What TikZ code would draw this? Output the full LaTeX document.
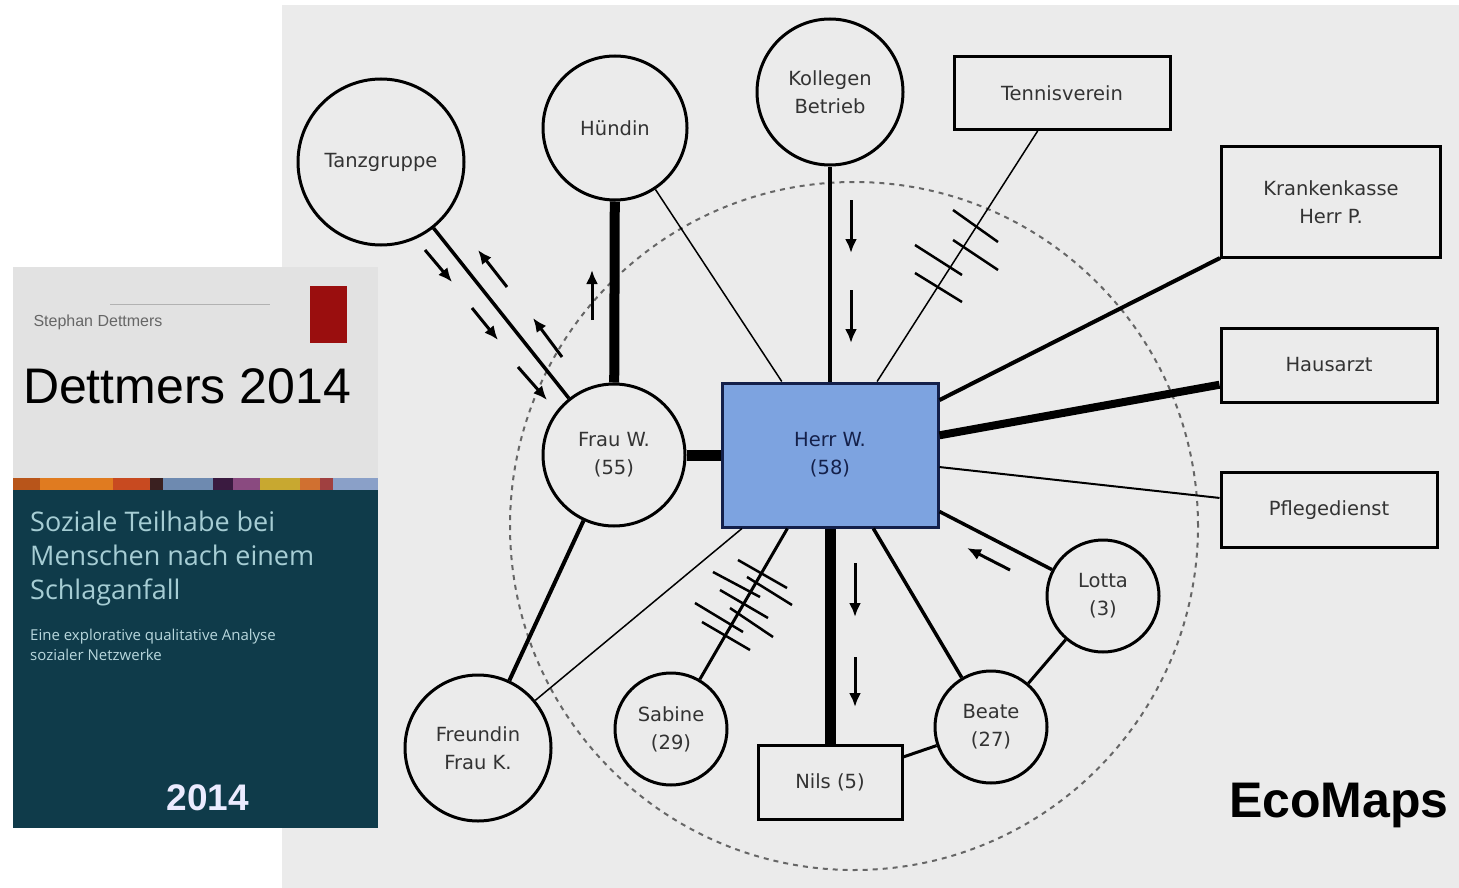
\documentclass[tikz,border=0pt]{standalone}
\usepackage{fontspec}
\setmainfont{DejaVu Sans}
\newfontfamily\coverfont{Liberation Sans}
\newfontfamily\subfont{Open Sans}
\usetikzlibrary{arrows.meta}

\definecolor{bg}{HTML}{EBEBEB}
\definecolor{herrblue}{RGB}{125,163,224}
\definecolor{navy}{HTML}{14204A}
\definecolor{coverlight}{HTML}{E2E2E2}
\definecolor{coverdark}{HTML}{0F3B4A}
\definecolor{covertext}{HTML}{A6CDD4}
\definecolor{coverred}{HTML}{9A0E0E}

\begin{document}
\begin{tikzpicture}[x=1pt,y=-1pt,
  txt/.style={font=\fontsize{19.5}{28}\selectfont, text=black!80, align=center},
  person/.style={txt, circle, draw, line width=3pt, fill=bg, inner sep=0pt},
  org/.style={txt, rectangle, draw, line width=3pt, fill=bg, inner sep=0pt},
  arr/.style={line width=3pt, -{Latex[length=14pt,width=12pt]}},
  hatch/.style={line width=2.5pt}]
  \useasboundingbox (0,0) rectangle (1459,888);
  \fill[white] (0,0) rectangle (1459,888);
  \fill[bg] (282,5) rectangle (1459,888);
  %% Book cover
  \fill[coverlight] (13,267) rectangle (378,478);
  \foreach \a/\b/\c in {13/40/B8551A,40/113/E07B20,113/150/C84A20,150/163/3A2020,163/213/6E8AB0,
    213/233/3A1A40,233/260/8A4A80,260/300/C8A830,300/320/D07030,320/333/A04040,333/378/8AA0C8}{%
    \definecolor{stripe}{HTML}{\c}
    \fill[stripe] (\a,478) rectangle (\b,490);
  }
  \fill[coverdark] (13,490) rectangle (378,828);
  \fill[coverred] (310,286) rectangle (347,343);
  \draw[gray!60, line width=1pt] (110,304) -- (270,304);
  \node[anchor=west, font=\coverfont\fontsize{16}{18}\selectfont, text=black!60] (autor) at (30,322) {Stephan Dettmers};
  \node[font=\coverfont\fontsize{50}{60}\selectfont] (titel) at (187,386) {Dettmers 2014};
  \node[anchor=north west, align=left, inner sep=0pt, font=\subfont\fontsize{27}{34}\selectfont, text=covertext] (thema) at (30,511) {Soziale Teilhabe bei\\Menschen nach einem\\Schlaganfall};
  \node[anchor=north west, align=left, inner sep=0pt, font=\subfont\fontsize{15}{20}\selectfont, text=covertext!80] (untertitel) at (30,629) {Eine explorative qualitative Analyse\\sozialer Netzwerke};
  \node[font=\coverfont\bfseries\fontsize{37}{40}\selectfont, text=blue!8] (jahr) at (208,798) {2014};
  %% Zone circle
  \draw[black!60, line width=2pt, dash pattern=on 5pt off 5pt] (854,526) circle[radius=344pt];
  %% Nodes
  \node[person, minimum size=166pt] (tanz) at (381,162) {Tanzgruppe};
  \node[person, minimum size=144pt] (huendin) at (615,128) {Hündin};
  \node[person, minimum size=146pt] (kollegen) at (830,92) {Kollegen\\Betrieb};
  \node[org, minimum width=216pt, minimum height=73pt] (tennis) at (1062,93) {Tennisverein};
  \node[org, minimum width=219pt, minimum height=110pt] (kasse) at (1331,202) {Krankenkasse\\Herr P.};
  \node[org, minimum width=216pt, minimum height=74pt] (arzt) at (1329,365) {Hausarzt};
  \node[org, minimum width=216pt, minimum height=75pt] (pflege) at (1329,510) {Pflegedienst};
  \node[org, minimum width=216pt, minimum height=144pt, fill=herrblue, draw=navy, text=navy] (herr) at (830,455) {Herr W.\\(58)};
  \node[person, minimum size=142pt] (frau) at (614,455) {Frau W.\\(55)};
  \node[person, minimum size=112pt] (lotta) at (1103,596) {Lotta\\(3)};
  \node[person, minimum size=112pt] (beate) at (991,727) {Beate\\(27)};
  \node[org, minimum width=144pt, minimum height=74pt] (nils) at (830,782) {Nils (5)};
  \node[person, minimum size=112pt] (sabine) at (671,729) {Sabine\\(29)};
  \node[person, minimum size=146pt] (freundin) at (478,748) {Freundin\\Frau K.};
  %% Connections
  \draw[line width=3.5pt] (tanz) -- (frau);
  \draw[line width=10pt] (huendin) -- (frau);
  \draw[line width=1.5pt] (huendin) -- (herr);
  \draw[line width=4pt] (kollegen) -- (herr);
  \draw[line width=1.5pt] (tennis) -- (herr);
  \draw[line width=4pt] (kasse) -- (herr);
  \draw[line width=8pt] (arzt) -- (herr);
  \draw[line width=2pt] (pflege) -- (herr);
  \draw[line width=3.5pt] (lotta) -- (herr);
  \draw[line width=3.5pt] (beate) -- (herr);
  \draw[line width=11pt] (nils) -- (herr);
  \draw[line width=3pt] (sabine) -- (herr);
  \draw[line width=1.5pt] (freundin) -- (herr);
  \draw[line width=4pt] (frau) -- (freundin);
  \draw[line width=11pt] (frau) -- (herr);
  \draw[line width=3pt] (beate) -- (nils);
  \draw[line width=3pt] (beate) -- (lotta);
  %% Stress marks
  \foreach \xa/\ya/\xb/\yb in {953/210/998/242,953/240/998/270,915/245/962/275,915/273/962/302,
    738/560/787/588,713/572/760/597,747/577/792/605,720/590/768/618,695/603/743/632,730/608/773/637,702/622/750/650}{
    \draw[hatch] (\xa,\ya) -- (\xb,\yb);
  }
  %% Flow arrows
  \foreach \xa/\ya/\xb/\yb in {425/250/452/282,472/308/498/340,518/367/547/400,507/287/478/250,562/357/533/318,
    592/320/592/270,851/200/851/253,851/290/851/343,855/563/855/617,855/657/855/707,1010/570/967/548}{
    \draw[arr] (\xa,\ya) -- (\xb,\yb);
  }
  \node[font=\coverfont\bfseries\fontsize{50}{60}\selectfont] (ecomaps) at (1339,805) {EcoMaps};
\end{tikzpicture}
\end{document}
